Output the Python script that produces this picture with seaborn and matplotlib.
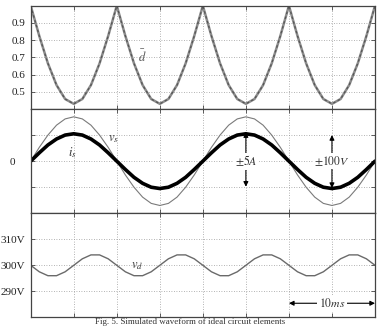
import matplotlib
matplotlib.use("Agg")
import matplotlib.pyplot as plt
import seaborn as sns
import pandas as pd

# ---- data ----
t_ms = list(range(0, 41))
d_avg = [1.000, 0.824, 0.665, 0.539, 0.458, 0.430, 0.458, 0.539, 0.665, 0.824,
         1.000, 0.824, 0.665, 0.539, 0.458, 0.430, 0.458, 0.539, 0.665, 0.824,
         1.000, 0.824, 0.665, 0.539, 0.458, 0.430, 0.458, 0.539, 0.665, 0.824,
         1.000, 0.824, 0.665, 0.539, 0.458, 0.430, 0.458, 0.539, 0.665, 0.824,
         1.000]
v_s = [0.00, 0.53, 1.00, 1.38, 1.62, 1.70, 1.62, 1.38, 1.00, 0.53,
       0.00, -0.53, -1.00, -1.38, -1.62, -1.70, -1.62, -1.38, -1.00, -0.53,
       0.00, 0.53, 1.00, 1.38, 1.62, 1.70, 1.62, 1.38, 1.00, 0.53,
       0.00, -0.53, -1.00, -1.38, -1.62, -1.70, -1.62, -1.38, -1.00, -0.53,
       0.00]
i_s = [0.00, 0.32, 0.62, 0.85, 1.00, 1.05, 1.00, 0.85, 0.62, 0.32,
       0.00, -0.32, -0.62, -0.85, -1.00, -1.05, -1.00, -0.85, -0.62, -0.32,
       0.00, 0.32, 0.62, 0.85, 1.00, 1.05, 1.00, 0.85, 0.62, 0.32,
       0.00, -0.32, -0.62, -0.85, -1.00, -1.05, -1.00, -0.85, -0.62, -0.32,
       0.00]
v_d = [300.0, 297.5, 296.0, 296.0, 297.5, 300.0, 302.5, 304.0, 304.0, 302.5,
       300.0, 297.5, 296.0, 296.0, 297.5, 300.0, 302.5, 304.0, 304.0, 302.5,
       300.0, 297.5, 296.0, 296.0, 297.5, 300.0, 302.5, 304.0, 304.0, 302.5,
       300.0, 297.5, 296.0, 296.0, 297.5, 300.0, 302.5, 304.0, 304.0, 302.5,
       300.0]
x_grid = [0, 5, 10, 15, 20, 25, 30, 35, 40]
d_ticks = [0.5, 0.6, 0.7, 0.8, 0.9]
d_labels = ["0.5", "0.6", "0.7", "0.8", "0.9"]
mid_ticks = [-1, 0, 1]
mid_labels = ["", "0", ""]
vd_ticks = [290, 300, 310]
vd_labels = ["290V", "300V", "310V"]
caption = "Fig. 5. Simulated waveform of ideal circuit elements"

df = pd.DataFrame({"t": t_ms, "d": d_avg, "vs": v_s, "is": i_s, "vd": v_d})

sns.set_theme(style="white")
plt.rcParams["font.family"] = ["Liberation Serif", "DejaVu Serif"]
plt.rcParams["mathtext.fontset"] = "stix"

W, H = 380, 326
fig = plt.figure(figsize=(W / 100, H / 100), dpi=100)
fig.patch.set_facecolor("white")

left = 30.7 / W
width = (375 - 30.7) / W
def ax_at(top_px, bot_px):
    return fig.add_axes([left, 1 - bot_px / H, width, (bot_px - top_px) / H])

ax1 = ax_at(5.7, 109)
ax2 = ax_at(109, 213.3)
ax3 = ax_at(213.3, 317.3)

# top panel
sns.lineplot(data=df, x="t", y="d", ax=ax1, color="#8c8c8c", lw=1.8)
sns.lineplot(data=df, x="t", y="d", ax=ax1, color="#555555", lw=0.9)
ax1.lines[-1].set_linestyle((0, (2, 2)))
ax1.set_ylim(0.4, 1.0)
ax1.set_yticks(d_ticks)
ax1.set_yticklabels(d_labels)
ax1.text(13.0, 0.705, r"$\bar{d}$", fontsize=9, ha="center", va="center",
         color="#555555")

# middle panel
sns.lineplot(data=df, x="t", y="vs", ax=ax2, color="#7a7a7a", lw=0.8)
sns.lineplot(data=df, x="t", y="is", ax=ax2, color="black", lw=2.6)
ax2.set_ylim(-2, 2)
ax2.set_yticks(mid_ticks)
ax2.set_yticklabels(mid_labels)
ax2.text(9.56, 0.84, r"$v_s$", fontsize=9, ha="center", va="center", color="#333333")
ax2.text(4.8, 0.34, r"$i_s$", fontsize=9, ha="center", va="center", color="#333333")
arr = dict(arrowstyle="<|-|>", color="black", lw=0.8, mutation_scale=7,
           shrinkA=0, shrinkB=0)
ax2.annotate("", xy=(25, 1.11), xytext=(25, -0.98), arrowprops=arr)
ax2.annotate("", xy=(35, 1.0), xytext=(35, -1.03), arrowprops=arr)
bb = dict(boxstyle="square,pad=0.1", fc="white", ec="none")
ax2.text(25, 0.0, r"$\pm5A$", fontsize=8.5, ha="center", va="center",
         color="#333333", bbox=bb, zorder=5)
ax2.text(35, 0.0, r"$\pm100V$", fontsize=8.5, ha="center", va="center",
         color="#333333", bbox=bb, zorder=5)

# bottom panel
sns.lineplot(data=df, x="t", y="vd", ax=ax3, color="#6a6a6a", lw=1.0)
ax3.set_ylim(280, 320)
ax3.set_yticks(vd_ticks)
ax3.set_yticklabels(vd_labels)
ax3.text(12.35, 299.6, r"$v_d$", fontsize=9, ha="center", va="center", color="#333333")
ax3.annotate("", xy=(30, 285.4), xytext=(40, 285.4), arrowprops=arr)
ax3.text(35, 285.4, r"$10ms$", fontsize=8.5, ha="center", va="center",
         color="#333333", bbox=dict(boxstyle="square,pad=0.15", fc="white", ec="none"),
         zorder=5)

grid_kw = dict(color="#9a9a9a", lw=0.6, ls=(0, (1, 2)))
for ax in (ax1, ax2, ax3):
    ax.set_xlim(0, 40)
    ax.set_xticks(x_grid)
    ax.set_xticklabels([])
    ax.grid(True, **grid_kw)
    ax.set_xlabel("")
    ax.set_ylabel("")
    for s in ax.spines.values():
        s.set_color("#444444")
        s.set_linewidth(0.9)
    ax.tick_params(axis="both", direction="in", length=3, width=0.6,
                   color="#444444", top=True, bottom=True, left=True, right=True,
                   labelsize=8, pad=4, labelcolor="#222222")
    ax.set_axisbelow(True)
ax2.tick_params(axis="y", pad=11)

fig.text(0.5, 2 / H, caption, ha="center", va="baseline", fontsize=6.5,
         color="#333333")

fig.savefig("out.png", dpi=100, facecolor="white")
